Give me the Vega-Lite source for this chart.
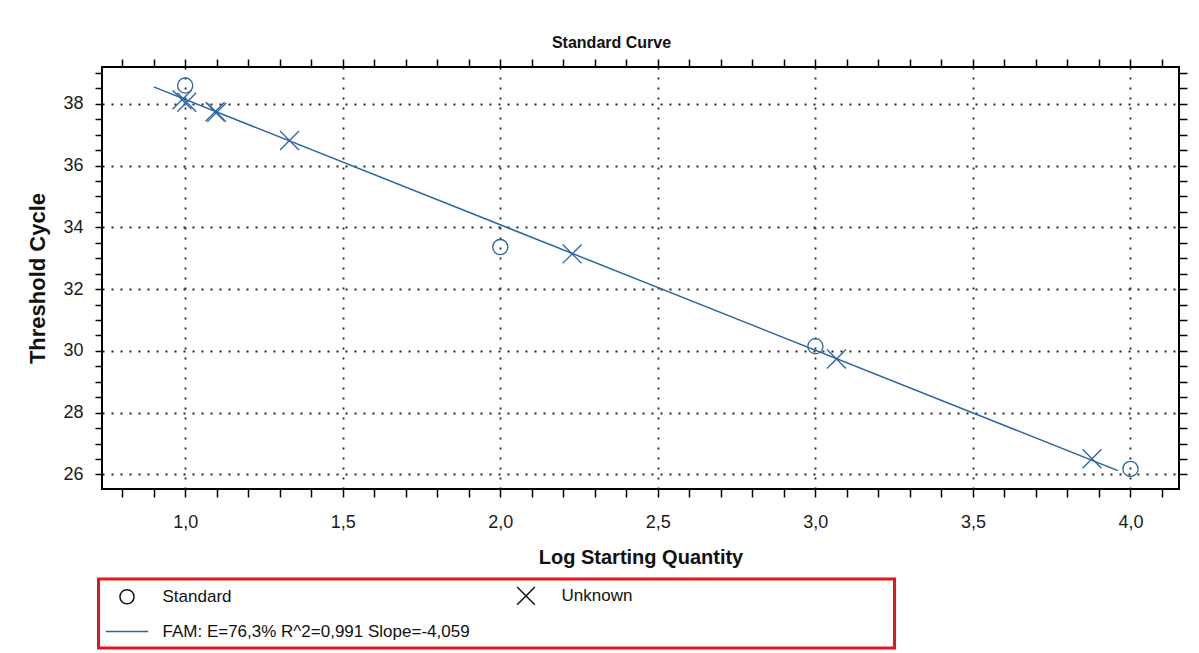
{
  "$schema": "https://vega.github.io/schema/vega-lite/v6.json",
  "width": 1077,
  "height": 422,
  "autosize": {"type": "none"},
  "padding": {"left": 102, "top": 67, "right": 20, "bottom": 164},
  "background": "#ffffff",
  "config": {"view": {"stroke": "#000000", "strokeWidth": 2}, "font": "Liberation Sans", "legend": {"strokeWidth": 3}},
  "title": {"text": "Standard Curve", "font": "Liberation Sans", "fontSize": 16, "fontWeight": "bold", "color": "#111111", "anchor": "middle", "frame": "group", "baseline": "alphabetic", "offset": -6, "dx": -29},
  "datasets": {
    "pts": [
      {"type": "Standard", "logq": 1.0, "ct": 38.59},
      {"type": "Standard", "logq": 2.0, "ct": 33.36},
      {"type": "Standard", "logq": 3.0, "ct": 30.15},
      {"type": "Standard", "logq": 4.0, "ct": 26.18},
      {"type": "Unknown", "logq": 0.99, "ct": 38.13},
      {"type": "Unknown", "logq": 1.005, "ct": 38.05},
      {"type": "Unknown", "logq": 1.095, "ct": 37.74},
      {"type": "Unknown", "logq": 1.1, "ct": 37.72},
      {"type": "Unknown", "logq": 1.331, "ct": 36.81},
      {"type": "Unknown", "logq": 2.228, "ct": 33.14},
      {"type": "Unknown", "logq": 3.067, "ct": 29.74},
      {"type": "Unknown", "logq": 3.878, "ct": 26.51}
    ],
    "fit": [{"logq": 0.9, "ct": 38.547}, {"logq": 3.96, "ct": 26.126}]
  },
  "layer": [
    {
      "data": {"name": "pts"},
      "mark": {"type": "point", "filled": false, "color": "#2a64a4", "strokeWidth": 1.3, "size": 230, "opacity": 1},
      "encoding": {
        "x": {"field": "logq", "type": "quantitative",
          "scale": {"domain": [0.736, 4.154], "nice": false, "zero": false},
          "axis": {"orient": "top", "values": [0.8,0.9,1,1.1,1.2,1.3,1.4,1.5,1.6,1.7,1.8,1.9,2,2.1,2.2,2.3,2.4,2.5,2.6,2.7,2.8,2.9,3,3.1,3.2,3.3,3.4,3.5,3.6,3.7,3.8,3.9,4,4.1],
            "domain": false, "labels": false, "grid": false, "title": null, "tickSize": 8, "tickColor": "#000000", "tickWidth": 1.5,
            "encode": {"ticks": {"update": {
              "y": {"value": 0},
              "y2": {"signal": "abs(datum.value*2-round(datum.value*2))<0.01 ? 8 : 4"}}}}
          }
        },
        "y": {"field": "ct", "type": "quantitative",
          "scale": {"domain": [25.53, 39.19], "nice": false, "zero": false},
          "axis": {"orient": "right", "values": [26,26.5,27,27.5,28,28.5,29,29.5,30,30.5,31,31.5,32,32.5,33,33.5,34,34.5,35,35.5,36,36.5,37,37.5,38,38.5,39],
            "domain": false, "labels": false, "grid": false, "title": null, "tickSize": 8, "tickColor": "#000000", "tickWidth": 1.5,
            "encode": {"ticks": {"update": {
              "x": {"value": 0},
              "x2": {"signal": "abs(datum.value/2-round(datum.value/2))<0.01 ? -10 : -5"}}}}
          }
        },
        "shape": {"field": "type", "type": "nominal",
          "scale": {"domain": ["Standard", "Unknown", "FAM: E=76,3% R^2=0,991 Slope=-4,059"], "range": ["circle", "M-1.25,-1.25L1.25,1.25M-1.25,1.25L1.25,-1.25", "M-3,0L3,0"]},
          "legend": {"orient": "none", "legendX": -3.5, "legendY": 512, "title": "\u00a0", "titleOrient": "right", "titlePadding": 254, "titleFontSize": 1, "direction": "horizontal", "columns": 2, "columnPadding": 35, "rowPadding": 14, "padding": 8,
            "strokeColor": "#e8141c", "fillColor": "#ffffff", "symbolOpacity": 1, "symbolStrokeWidth": 1.5,
            "symbolSize": 200, "symbolOffset": 12, "labelOffset": 27, "labelFont": "Liberation Sans", "labelFontSize": 17, "labelColor": "#111111", "labelLimit": 800}
        }
      }
    },
    {
      "data": {"name": "pts"},
      "mark": {"type": "point", "filled": false, "strokeWidth": 1.3, "size": 230, "opacity": 0},
      "encoding": {
        "x": {"field": "logq", "type": "quantitative", "scale": {"domain": [0.736, 4.154], "nice": false, "zero": false}, "axis": null},
        "y": {"field": "ct", "type": "quantitative", "scale": {"domain": [25.53, 39.19], "nice": false, "zero": false}, "axis": null},
        "shape": {"field": "type", "type": "nominal",
          "scale": {"domain": ["Standard", "Unknown", "FAM: E=76,3% R^2=0,991 Slope=-4,059"], "range": ["circle", "M-1.25,-1.25L1.25,1.25M-1.25,1.25L1.25,-1.25", "M-3,0L3,0"]},
          "legend": {"orient": "none", "legendX": -3.5, "legendY": 512, "title": "\u00a0", "titleOrient": "right", "titlePadding": 254, "titleFontSize": 1, "direction": "horizontal", "columns": 2, "columnPadding": 35, "rowPadding": 14, "padding": 8,
            "strokeColor": "#e8141c", "fillColor": "#ffffff", "symbolOpacity": 1, "symbolStrokeWidth": 1.5,
            "symbolSize": 200, "symbolOffset": 12, "labelOffset": 27, "labelFont": "Liberation Sans", "labelFontSize": 17, "labelColor": "#111111", "labelLimit": 800}
        },
        "color": {"field": "type", "type": "nominal",
          "scale": {"domain": ["Standard", "Unknown", "FAM: E=76,3% R^2=0,991 Slope=-4,059"], "range": ["#111111", "#111111", "#2a64a4"]},
          "legend": {"orient": "none", "legendX": -3.5, "legendY": 512, "title": "\u00a0", "titleOrient": "right", "titlePadding": 254, "titleFontSize": 1, "direction": "horizontal", "columns": 2, "columnPadding": 35, "rowPadding": 14, "padding": 8,
            "strokeColor": "#e8141c", "fillColor": "#ffffff", "symbolOpacity": 1, "symbolStrokeWidth": 1.5,
            "symbolSize": 200, "symbolOffset": 12, "labelOffset": 27, "labelFont": "Liberation Sans", "labelFontSize": 17, "labelColor": "#111111", "labelLimit": 800}
        }
      }
    },
    {
      "data": {"name": "fit"},
      "mark": {"type": "line", "color": "#2a64a4", "strokeWidth": 1.5},
      "encoding": {
        "x": {"field": "logq", "type": "quantitative",
          "scale": {"domain": [0.736, 4.154], "nice": false, "zero": false},
          "axis": {"orient": "bottom", "values": [0.8,0.9,1,1.1,1.2,1.3,1.4,1.5,1.6,1.7,1.8,1.9,2,2.1,2.2,2.3,2.4,2.5,2.6,2.7,2.8,2.9,3,3.1,3.2,3.3,3.4,3.5,3.6,3.7,3.8,3.9,4,4.1],
            "domain": false, "tickSize": 8, "tickColor": "#000000", "tickWidth": 1.5,
            "labelExpr": "abs(datum.value*2-round(datum.value*2))<0.01 ? replace(format(datum.value,'.1f'),'.',',') : ''",
            "labelFont": "Liberation Sans", "labelFontSize": 18, "labelColor": "#1a1a1a", "labelPadding": 16,
            "labelOverlap": false, "labelFlush": false, "labelBound": false,
            "grid": true, "gridColor": "#000000", "gridDash": [2, 8], "gridWidth": 1.8,
            "gridOpacity": {"condition": {"test": "abs(datum.value*2-round(datum.value*2))<0.01", "value": 0.85}, "value": 0},
            "title": "Log Starting Quantity", "titleFont": "Liberation Sans", "titleFontSize": 20, "titleFontWeight": "bold", "titleColor": "#111111", "titlePadding": 16,
            "encode": {"ticks": {"update": {
              "y": {"signal": "abs(datum.value*2-round(datum.value*2))<0.01 ? -9 : -4"},
              "y2": {"signal": "abs(datum.value*2-round(datum.value*2))<0.01 ? 7 : 4"}}}}
          }
        },
        "y": {"field": "ct", "type": "quantitative",
          "scale": {"domain": [25.53, 39.19], "nice": false, "zero": false},
          "axis": {"orient": "left", "values": [26,26.5,27,27.5,28,28.5,29,29.5,30,30.5,31,31.5,32,32.5,33,33.5,34,34.5,35,35.5,36,36.5,37,37.5,38,38.5,39],
            "domain": false, "tickSize": 7, "tickColor": "#000000", "tickWidth": 1.5,
            "labelExpr": "abs(datum.value/2-round(datum.value/2))<0.01 ? format(datum.value,'d') : ''",
            "labelFont": "Liberation Sans", "labelFontSize": 18, "labelColor": "#1a1a1a", "labelPadding": 12,
            "labelOverlap": false, "labelFlush": false, "labelBound": false,
            "grid": true, "gridColor": "#000000", "gridDash": [2, 7], "gridWidth": 1.8,
            "gridOpacity": {"condition": {"test": "abs(datum.value/2-round(datum.value/2))<0.01", "value": 0.85}, "value": 0},
            "title": "Threshold Cycle", "titleFont": "Liberation Sans", "titleFontSize": 22, "titleFontWeight": "bold", "titleColor": "#111111", "titlePadding": 13,
            "encode": {"ticks": {"update": {
              "x": {"signal": "abs(datum.value/2-round(datum.value/2))<0.01 ? 9 : 4"},
              "x2": {"signal": "abs(datum.value/2-round(datum.value/2))<0.01 ? -7 : -4"}}}}
          }
        }
      }
    }
  ],
  "resolve": {"axis": {"x": "independent", "y": "independent"}}
}
